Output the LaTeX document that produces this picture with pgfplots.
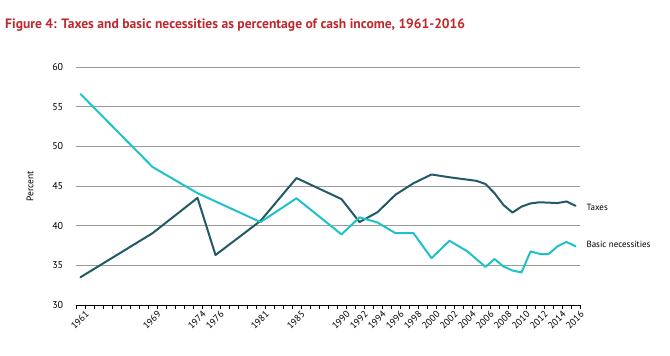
\documentclass[border=0pt]{standalone}
\usepackage{fontspec}
\setmainfont{PT Sans}
\usepackage{pgfplots}
\pgfplotsset{compat=1.18}
\definecolor{taxc}{HTML}{215A66}
\definecolor{basc}{HTML}{1EC2C8}
\definecolor{titc}{HTML}{C1272D}
\definecolor{gridc}{HTML}{9A9A9A}
\begin{document}
\begin{tikzpicture}[x=1pt,y=1pt]
\path (0,0) rectangle (670,356);
\node[anchor=base west,text=titc,font=\fontsize{13.6}{15}\selectfont\bfseries,inner sep=0pt] at (5,327.3) {Figure 4: Taxes and basic necessities as percentage of cash income, 1961-2016};
\begin{axis}[
  at={(76pt,51pt)}, anchor=south west,
  scale only axis, width=504pt, height=238pt,
  xmin=1960.5, xmax=2016.5, ymin=30, ymax=60,
  axis x line*=bottom, axis y line*=left,
  y axis line style={draw=none},
  x axis line style={black, line width=0.6pt},
  ytick={30,35,...,60},
  ymajorgrids, grid style={gridc, line width=0.7pt},
  ytick style={draw=none},
  xtick={1961,1969,1974,1976,1981,1985,1990,1992,1994,1996,1998,2000,2002,2004,2006,2008,2010,2012,2014,2016},
  xticklabels={1961,1969,1974,1976,1981,1985,1990,1992,1994,1996,1998,2000,2002,2004,2006,2008,2010,2012,2014,2016},
  major x tick style={draw=none},
  minor xtick={1960.5,1961.5,...,2016.5},
  minor x tick style={black, line width=0.5pt},
  tick align=outside, minor tick length=4pt,
  x tick label style={rotate=45, anchor=north east, font=\fontsize{9.5}{11}\selectfont, inner sep=0.5pt, yshift=-3pt, xshift=3pt},
  y tick label style={font=\fontsize{10}{12}\selectfont, xshift=-5pt},
  /pgf/number format/assume math mode=true,
  ylabel={Percent}, ylabel style={at={(axis description cs:-0.091,0.5)}, anchor=center, font=\fontsize{9.5}{11}\selectfont},
  clip=false,
]
\addplot[taxc, line width=2pt, line join=round, line cap=round] coordinates {
(1961,33.5) (1969,39.05) (1974,43.5) (1976,36.3) (1981,40.6) (1985,46.0) (1990,43.35) (1992,40.45) (1994,41.7) (1996,43.9) (1998,45.35) (2000,46.45) (2002,46.1) (2004,45.8) (2005,45.65) (2006,45.25) (2007,44.1) (2008,42.6) (2009,41.65) (2010,42.4) (2011,42.8) (2012,42.95) (2013,42.9) (2014,42.85) (2015,43.05) (2016,42.5)
};
\addplot[basc, line width=2pt, line join=round, line cap=round] coordinates {
(1961,56.6) (1969,47.4) (1974,44.1) (1981,40.45) (1985,43.45) (1990,38.9) (1992,41.05) (1994,40.4) (1996,39.05) (1998,39.05) (2000,35.9) (2002,38.1) (2004,36.75) (2006,34.8) (2007,35.8) (2008,34.85) (2009,34.35) (2010,34.1) (2011,36.75) (2012,36.45) (2013,36.4) (2014,37.4) (2015,37.95) (2016,37.4)
};
\node[anchor=west, font=\fontsize{9}{11}\selectfont, inner sep=0pt] at (axis cs:2017.2,42.26) {Taxes};
\node[anchor=west, font=\fontsize{9}{11}\selectfont, inner sep=0pt] at (axis cs:2017.2,37.6) {Basic necessities};
\end{axis}
\end{tikzpicture}
\end{document}
